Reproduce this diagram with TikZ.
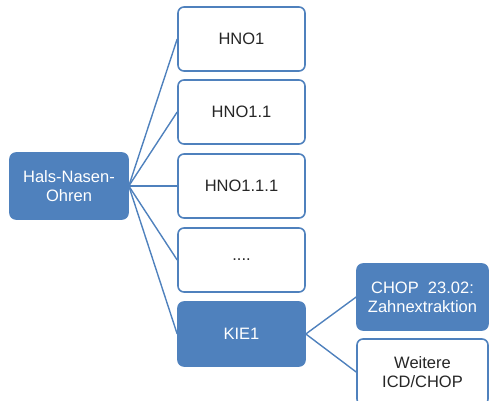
\documentclass[tikz,border=0pt]{standalone}
\usepackage{fontspec}
\setmainfont{Liberation Sans}
\definecolor{officeblue}{HTML}{4F81BD}
\begin{document}
\begin{tikzpicture}[x=1pt,y=-1pt,
  box/.style={draw=officeblue, line width=1.6pt, rounded corners=6pt,
    minimum width=127pt, minimum height=64pt, align=center,
    font=\fontsize{16.5}{19}\selectfont, inner sep=2pt},
  filled/.style={box, fill=officeblue, text=white},
  plain/.style={box, fill=white, text=black!85},
  link/.style={draw=officeblue, line width=1.4pt}]
\useasboundingbox (0,0) rectangle (492,401);
% root topic
\node[filled, minimum width=118pt, minimum height=66pt] (root) at (69,186) {Hals-Nasen-\\Ohren};
% second level
\node[plain]  (h1)   at (241.5,39)  {HNO1};
\node[plain]  (h11)  at (241.5,112) {HNO1.1};
\node[plain]  (h111) at (241.5,186) {HNO1.1.1};
\node[plain]  (dots) at (241.5,260) {....};
\node[filled] (kie)  at (241.5,334) {KIE1};
% third level below KIE1
\node[filled, minimum width=131pt, minimum height=66pt] (chop) at (422.5,297) {CHOP\ \ 23.02:\\Zahnextraktion};
\node[plain, minimum width=131pt, minimum height=66pt] (more) at (422.5,372) {Weitere\\ICD/CHOP};
% connectors
\foreach \n in {h1,h11,h111,dots,kie}
  \draw[link] (root.east) -- (\n.west);
\draw[link] (kie.east) -- (chop.west);
\draw[link] (kie.east) -- (more.west);
\end{tikzpicture}
\end{document}
